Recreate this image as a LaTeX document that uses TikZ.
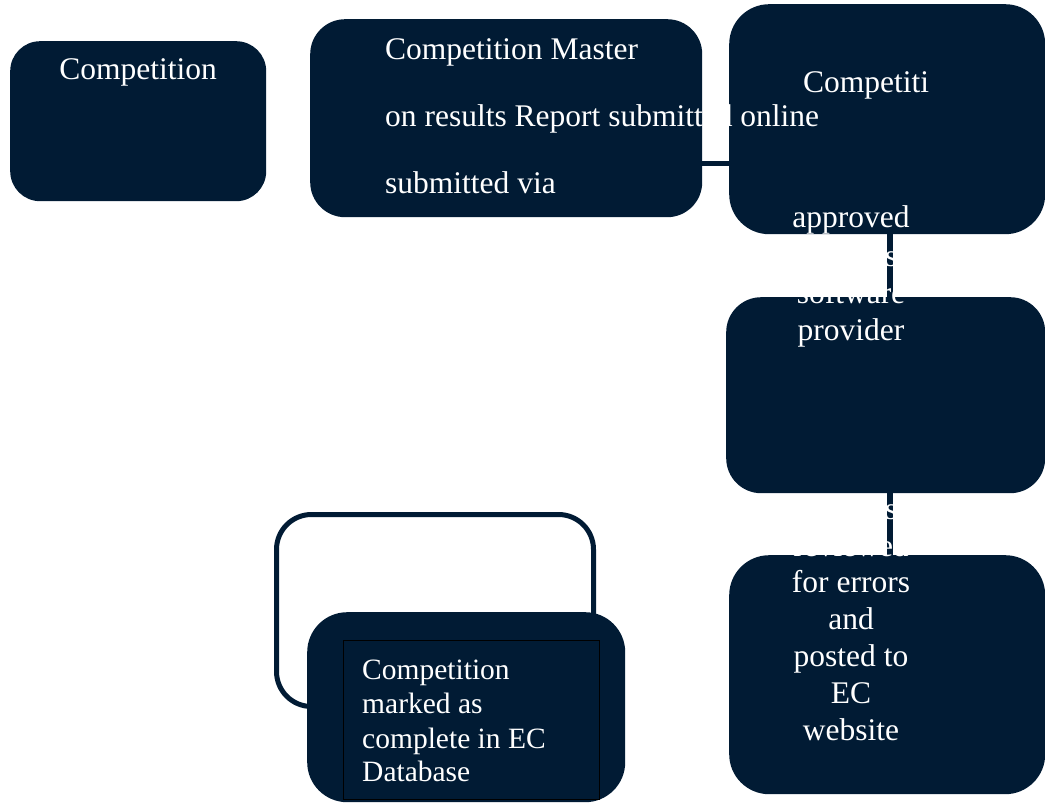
\documentclass[tikz,border=0pt]{standalone}
\usepackage{fontspec}
\setmainfont{Liberation Serif}
\definecolor{navy}{HTML}{011B34}
\tikzset{
  flowbox/.style = {fill=navy, rounded corners=35pt, inner sep=0pt, anchor=north west},
  txt/.style     = {text=white, inner sep=0pt, font=\fontsize{31.5}{37}\selectfont},
  smalltxt/.style= {txt, font=\fontsize{29.5}{34}\selectfont, anchor=base west},
  link/.style    = {draw=navy, line width=6pt},
}
\begin{document}
\begin{tikzpicture}[x=1pt, y=-1pt]
  \useasboundingbox (0,0) rectangle (1045,803);
  % boxes
  \node [draw=navy, line width=5pt, rounded corners=35pt, minimum width=317pt,
         minimum height=192pt, inner sep=0pt, anchor=north west] (loop) at (274,512) {};
  \node [flowbox, minimum width=256pt, minimum height=160pt, rounded corners=30pt] (boxA) at (10,41) {};
  \node [flowbox, minimum width=392pt, minimum height=198pt] (boxB) at (310,19) {};
  \node [flowbox, minimum width=316pt, minimum height=230pt, rounded corners=40pt] (boxC) at (729,4) {};
  \node [flowbox, minimum width=319pt, minimum height=196pt] (boxD) at (726,297) {};
  \node [flowbox, minimum width=316pt, minimum height=239pt, rounded corners=40pt] (boxE) at (729,555) {};
  \node [flowbox, minimum width=318pt, minimum height=190pt, rounded corners=40pt] (boxF) at (307,612) {};
  \node [draw=black, line width=1pt, minimum width=256pt, minimum height=159pt,
         inner sep=0pt, anchor=north west] (frameF) at (343,640) {};
  % connectors
  \draw [link, line width=5pt] (boxB.-13.5) -- (boxB.-13.5 -| boxC.west);
  \draw [link] ([xshift=3pt]boxC.south) -- ([xshift=3pt]boxC.south |- boxD.north);
  \draw [link] ([xshift=4pt]boxD.south) -- ([xshift=4pt]boxD.south |- boxE.north);
  % texts
  \node [txt, anchor=base] (tA) at (138,79) {Competition};
  \node [txt, anchor=base west] (tB1) at (385,59)  {Competition Master};
  \node [txt, anchor=base west] (tB2) at (385,126) {on results Report submitted online};
  \node [txt, anchor=base west] (tB3) at (385,193) {submitted via};
  \node [txt, anchor=base west] (tC1) at (803,92)  {Competiti};
  \node [txt, anchor=base] (tC2) at (851,227) {approved};
  \node [txt, anchor=base west] (tC3) at (885,266) {s};
  \node [txt, anchor=base] (tC4) at (851,303) {software};
  \node [txt, anchor=base] (tC5) at (851,340) {provider};
  \node [txt, anchor=base west] (tE1) at (885,519) {s};
  \node [txt, anchor=base] (tE2) at (851,556) {reviewed};
  \node [txt, anchor=base] (tE3) at (851,592) {for errors};
  \node [txt, anchor=base] (tE4) at (851,629) {and};
  \node [txt, anchor=base] (tE5) at (851,666) {posted to};
  \node [txt, anchor=base] (tE6) at (851,703) {EC};
  \node [txt, anchor=base] (tE7) at (851,740) {website};
  \node [smalltxt] (tF1) at (362,679) {Competition};
  \node [smalltxt] (tF2) at (362,713) {marked as};
  \node [smalltxt] (tF3) at (362,748) {complete in EC};
  \node [smalltxt] (tF4) at (362,781) {Database};
\end{tikzpicture}
\end{document}
